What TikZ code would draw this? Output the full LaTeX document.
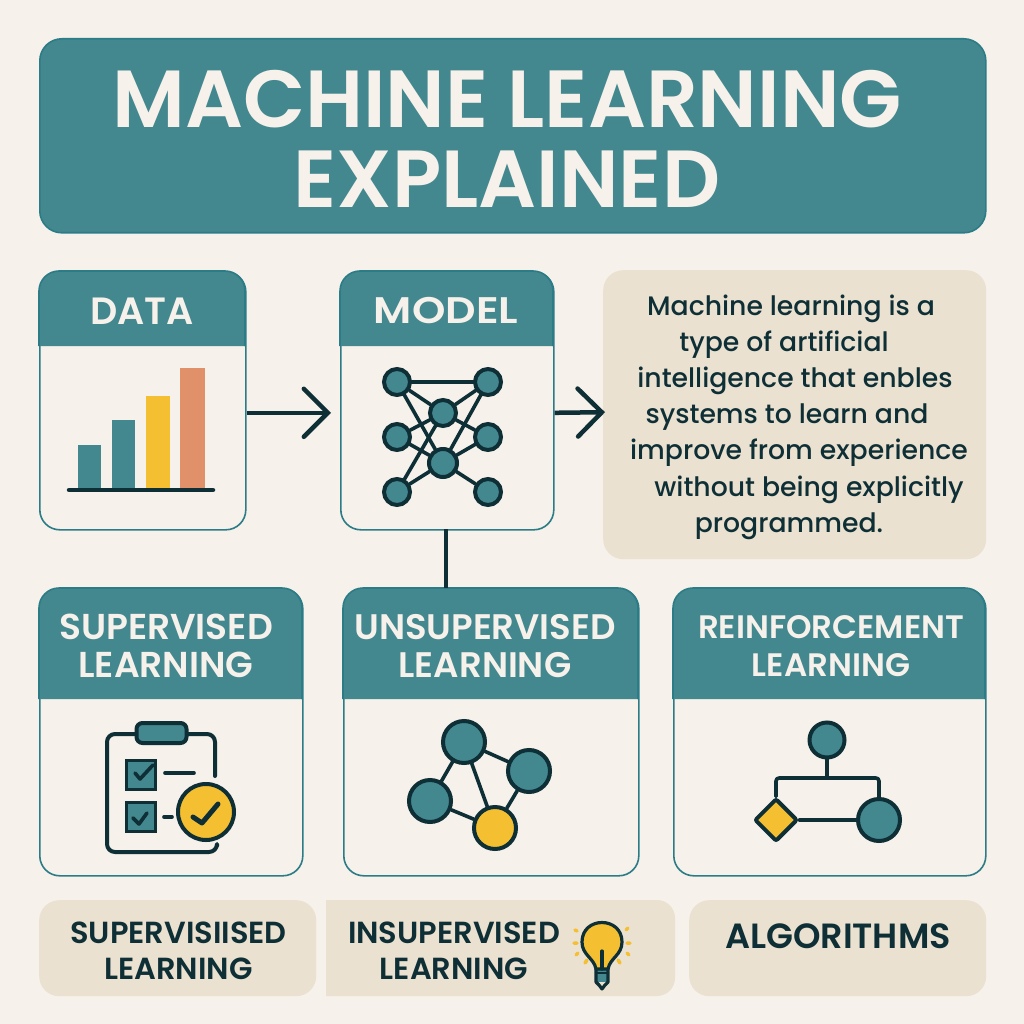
\documentclass[tikz,border=0pt]{standalone}
\usepackage{fontspec}
\setmainfont{Poppins}
\newfontfamily\hd{Poppins SemiBold}
\newfontfamily\bd{Poppins Medium}
\usetikzlibrary{arrows.meta,shapes.geometric,calc}
\definecolor{bgc}{HTML}{F6F1EA}
\definecolor{tealc}{HTML}{43878F}
\definecolor{edgec}{HTML}{2C7C87}
\definecolor{beigec}{HTML}{EBE1D0}
\definecolor{darkc}{HTML}{0E2F36}
\definecolor{yelc}{HTML}{F4BF30}
\definecolor{orc}{HTML}{E0916A}
\tikzset{
 panel/.style={draw=edgec,line width=1.6pt,fill=bgc,rounded corners=20pt,inner sep=0pt,anchor=north west},
 beigebox/.style={fill=beigec,rounded corners=20pt,inner sep=0pt,anchor=north west},
 headtxt/.style={text=bgc,align=center,font=\hd\fontsize{36}{38}\selectfont},
 desctxt/.style={text=darkc,font=\bd\fontsize{26.7}{30}\selectfont},
 lowtxt/.style={text=darkc,align=center,font=\hd\fontsize{30.5}{36}\selectfont},
 conn/.style={draw=darkc,line width=4.5pt},
 arr/.style={conn,-{Straight Barb[length=24pt,width=48pt,line width=4.5pt,line cap=round]}},
 tn/.style={circle,draw=darkc,fill=tealc,line width=4pt,inner sep=0pt},
 yn/.style={tn,fill=yelc},
 lk/.style={draw=darkc,line width=3.6pt,line cap=round,line join=round},
}
\newcommand{\headfill}[5]{\fill[tealc] (#1,#4) [rounded corners=20pt] -- (#1,#2) -- (#3,#2) [sharp corners] -- (#3,#4) -- cycle;
 \draw[edgec,line width=1.6pt,rounded corners=20pt] (#1,#5) -- (#1,#2) -- (#3,#2) -- (#3,#5);}
\begin{document}
\begin{tikzpicture}[x=1pt,y=-1pt]
\useasboundingbox (0,0) rectangle (1024,1024);
\fill[bgc] (0,0) rectangle (1024,1024);
% title
\node[panel,fill=tealc,rounded corners=22pt,minimum width=946pt,minimum height=194pt] (title) at (39,38) {};
\node[text=bgc,align=center,font=\hd\fontsize{81}{80}\selectfont] (titletxt) at (507,139) {MACHINE LEARNING\\EXPLAINED};
% cards
\node[panel,minimum width=206pt,minimum height=258pt] (data) at (39,271) {};
\headfill{39}{271}{245}{346}{346}
\node[headtxt,font=\hd\fontsize{38}{40}\selectfont] (datatxt) at (142,311) {DATA};
\node[panel,minimum width=213pt,minimum height=258pt] (model) at (340,271) {};
\headfill{340}{271}{553}{346}{346}
\node[headtxt,font=\hd\fontsize{37}{40}\selectfont] (modeltxt) at (446,311) {\scalebox{1.15}[1]{MODEL}};
\node[beigebox,minimum width=383pt,minimum height=289pt] (desc) at (603,270) {};
\node[desctxt] (d1) at (791,309) {Machine learning is a};
\node[desctxt] (d2) at (784,345) {type of artificial};
\node[desctxt] (d3) at (795,381) {intelligence that enbles};
\node[desctxt] (d4) at (787,417) {systems to learn and};
\node[desctxt] (d5) at (799,453) {improve from experience};
\node[desctxt] (d6) at (809,490) {without being explicitly};
\node[desctxt] (d7) at (789,526) {programmed.};
\node[panel,minimum width=263pt,minimum height=287pt] (sup) at (39,588) {};
\headfill{39}{588}{302}{699}{699}
\node[headtxt] (suptxt) at (166,646) {SUPERVISED\\LEARNING};
\node[panel,minimum width=295pt,minimum height=287pt] (uns) at (343,588) {};
\headfill{343}{588}{638}{699}{699}
\node[headtxt,font=\hd\fontsize{35.5}{38}\selectfont] (unstxt) at (485,646) {UNSUPERVISED\\LEARNING};
\node[panel,minimum width=312pt,minimum height=287pt] (rei) at (673,588) {};
\headfill{673}{588}{985}{699}{699}
\node[headtxt,font=\hd\fontsize{32.5}{38}\selectfont] (reitxt) at (831,646) {REINFORCEMENT\\LEARNING};
% bottom boxes
\node[beigebox,minimum width=277pt,minimum height=96pt] (b1) at (39,900) {};
\fill[beigec] (326,900) [rounded corners=18pt] -- (675,900) -- (675,996) [sharp corners] -- (326,996) -- cycle;
\node[beigebox,minimum width=297pt,minimum height=96pt] (b3) at (689,900) {};
\node[lowtxt] (b1txt) at (178.5,951) {SUPERVISIISED\\LEARNING};
\node[lowtxt] (b2txt) at (454,951) {INSUPERVISED\\LEARNING};
\node[lowtxt,font=\hd\fontsize{35}{38}\selectfont] (b3txt) at (838,936) {ALGORITHMS};
% connectors
\draw[arr] ([yshift=-12pt]data.east) -- ($(model.west)+(-9,12)$);
\draw[arr] ([yshift=-12pt]model.east) -- ($(desc.west)+(2,-2.5)$);
\draw[conn] (446,529) -- (446,588);
% bars
\fill[tealc] (78,445) rectangle (101,488);
\fill[tealc] (112,420) rectangle (135,488);
\fill[yelc] (146,396) rectangle (170,488);
\fill[orc] (180,368) rectangle (205,488);
\draw[lk,line width=4.5pt] (69,490) -- (213,490);
% network
\foreach \n/\x/\y/\s in {tl/397/382/26,tr/488/382/26,ct/443/413/26,ml/397/437/26,mr/488/437/26,cb/443/463/28,bl/397/492/26,br/488/492/26}
  \node[tn,minimum size=\s pt] (\n) at (\x,\y) {};
\foreach \a/\b in {tl/tr,tl/ct,tl/cb,tr/ct,tr/cb,ml/ct,ml/cb,mr/ct,mr/cb,bl/ct,bl/cb,br/cb}
  \draw[lk] (\a) -- (\b);
% clipboard
\draw[lk,line width=4pt,rounded corners=8pt] (215,776) -- (215,734) -- (107,734) -- (107,852) -- (217,852) -- (217,846);
\node[tn,rounded corners=6pt,rectangle,minimum width=50pt,minimum height=20pt] (pill) at (161.5,733) {};
\node[tn,rectangle,minimum size=29pt,line width=3.5pt] (cb1) at (141,775) {};
\node[tn,rectangle,minimum size=29pt,line width=3.5pt] (cb2) at (141,817) {};
\draw[lk,line width=3.6pt] (135,773) -- (140,779) -- (153,765);
\draw[lk,line width=3.6pt] (133,818) -- (139,824) -- (147,813);
\draw[lk] (165,773) -- (194,773);
\draw[lk] (164,817) -- (172,817);
\node[yn,minimum size=56pt] (okc) at (206,812) {};
\draw[lk,line width=5pt] (193,817) -- (202,823) -- (218,804);
% graph
\node[tn,minimum size=42pt] (g1) at (464,742) {};
\node[tn,minimum size=42pt] (g2) at (529,771) {};
\node[tn,minimum size=42pt] (g3) at (430,801) {};
\node[yn,minimum size=42pt] (g4) at (495,828) {};
\foreach \a/\b in {g1/g2,g1/g3,g1/g4,g2/g4,g3/g4} \draw[lk] (\a) -- (\b);
% flow
\node[tn,minimum size=35pt] (f1) at (827,740) {};
\node[yn,diamond,minimum size=43pt,rounded corners=2pt] (f2) at (776,820) {};
\node[tn,minimum size=42pt] (f3) at (879,820) {};
\coordinate (fm) at (827,778);
\draw[lk] (f1) -- (fm);
\draw[lk,rounded corners=3pt] (f2.north) -- (776,778) -- (879,778) -- (f3.north);
\draw[lk] (f2) -- (f3);
% bulb
\fill[tealc] (595,970) rectangle (609,982);
\draw[lk,fill=yelc,line width=3.2pt] (596,969) .. controls (594,958) and (582,955) .. (582,942) .. controls (582,916) and (622,916) .. (622,942) .. controls (622,955) and (610,958) .. (608,969) -- cycle;
\draw[lk,line width=3.2pt] (602,969) -- (602,951);
\draw[lk,line width=3.2pt] (596,969) -- (596,982) -- (599,985) -- (602,989) -- (605,985) -- (608,982) -- (608,969);
\draw[lk,line width=2.5pt] (596,973) -- (608,973);
\draw[draw=yelc,line width=3.5pt,line cap=round] (575,930) -- (577,931) (574,943) -- (577,943) (576,955) -- (578,953) (585,963) -- (587,960) (626,930) -- (628,928) (627,943) -- (630,943) (627,953) -- (629,955) (618,960) -- (620,963);
\end{tikzpicture}
\end{document}
